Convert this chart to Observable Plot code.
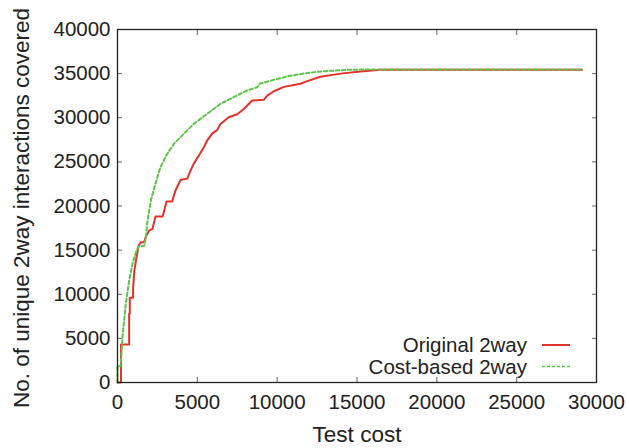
<!DOCTYPE html>
<html><head><meta charset="utf-8">
<script src="https://cdn.jsdelivr.net/npm/d3@7"></script>
<script src="https://cdn.jsdelivr.net/npm/@observablehq/plot@0.6"></script>
<style>body{margin:0;background:#fff} svg{display:block}</style>
</head><body><div id="chart"></div>
<script>
const seriesNames = ["Original 2way", "Cost-based 2way"];
const xLabel = "Test cost";
const yLabel = "No. of unique 2way interactions covered";
const xTicks = [0, 5000, 10000, 15000, 20000, 25000, 30000];
const yTicks = [0, 5000, 10000, 15000, 20000, 25000, 30000, 35000, 40000];

const originalCost =    [0, 220, 220, 730, 730, 770, 770, 980, 980, 1060, 1190, 1320, 1460, 1670, 1770, 1980, 2190, 2380, 2830, 3070, 3420, 3630, 3950, 4370, 4570, 4780, 5090, 5410, 5610, 5930, 6240, 6450, 6970, 7500, 7910, 8330, 8440, 9170, 9380, 9790, 10420, 11460, 11880, 12710, 13970, 15220, 16470, 17000, 29100];
const originalCovered = [0, 0, 4300, 4300, 7800, 7800, 9600, 9600, 10800, 12700, 14200, 15500, 15900, 15900, 16500, 17200, 17400, 18800, 18800, 20500, 20500, 21750, 22950, 23100, 24000, 24800, 25700, 26650, 27400, 28200, 28600, 29300, 30050, 30400, 31000, 31750, 31950, 32050, 32500, 33000, 33500, 33850, 34150, 34650, 35000, 35250, 35430, 35450, 35450];

const costBasedCost =    [0, 0, 200, 310, 520, 730, 940, 1150, 1320, 1680, 1780, 1880, 2100, 2420, 2690, 3110, 3530, 4150, 4780, 5620, 6450, 7280, 8120, 8750, 8900, 9790, 10840, 11880, 12920, 14380, 16040, 29100];
const costBasedCovered = [0, 1850, 1850, 5100, 8950, 11550, 13450, 14750, 15400, 15500, 16450, 18350, 20700, 22800, 24400, 25910, 27040, 28180, 29310, 30450, 31580, 32330, 33090, 33460, 33850, 34300, 34760, 35070, 35270, 35430, 35480, 35470];

const colors = ["#e2332a", "#5cc54a"];

const original = originalCost.map((c, i) => ({cost: c, covered: originalCovered[i]}));
const costBased = costBasedCost.map((c, i) => ({cost: c, covered: costBasedCovered[i]}));

const font = "'Liberation Sans', Arial, Helvetica, sans-serif";

const plot = Plot.plot({
  width: 626, height: 448,
  marginLeft: 117, marginRight: 30, marginTop: 29, marginBottom: 66,
  style: {fontFamily: font, fontSize: "20.5px", color: "#222", background: "#fff"},
  x: {domain: [0, 30000]},
  y: {domain: [0, 40000]},
  marks: [
    Plot.axisX(xTicks, {anchor: "bottom", tickSize: -5, tickPadding: 17, tickFormat: d => String(d), label: null, stroke: "#666"}),
    Plot.axisX(xTicks, {anchor: "top", tickSize: -5, tickFormat: () => "", label: null, stroke: "#666"}),
    Plot.axisY(yTicks, {anchor: "left", tickSize: -5, tickPadding: 12, tickFormat: d => String(d), label: null, stroke: "#666"}),
    Plot.axisY(yTicks, {anchor: "right", tickSize: -5, tickFormat: () => "", label: null, stroke: "#666"}),
    Plot.line(original, {x: "cost", y: "covered", stroke: colors[0], strokeWidth: 2}),
    Plot.line(costBased, {x: "cost", y: "covered", stroke: colors[1], strokeWidth: 2, strokeDasharray: "3.5,2.5"}),
    Plot.frame({stroke: "#222", strokeWidth: 1.3}),
    Plot.text([xLabel], {text: d => d, frameAnchor: "bottom", lineAnchor: "bottom", dy: 59, fontSize: 22.5, fill: "#222"}),
    Plot.text([yLabel], {text: d => d, frameAnchor: "left", textAnchor: "middle", lineAnchor: "bottom", rotate: -90, dx: -88.5, dy: 2, fontSize: 22.5, fill: "#222"})
  ]
});

// legend overlay (inside plot, bottom-right)
const svg = d3.select(plot);
const lg = svg.append("g").attr("font-family", font).attr("font-size", 20.5).attr("fill", "#222");
const legendRows = [
  {name: seriesNames[0], color: colors[0], dash: null, ty: 351.5, ly: 345},
  {name: seriesNames[1], color: colors[1], dash: "3,2", ty: 373.5, ly: 366.5}
];
legendRows.forEach(r => {
  lg.append("text").attr("x", 527).attr("y", r.ty).attr("text-anchor", "end").text(r.name);
  const l = lg.append("line").attr("x1", 542).attr("x2", 570).attr("y1", r.ly).attr("y2", r.ly)
    .attr("stroke", r.color).attr("stroke-width", r.dash ? 1.5 : 2);
  if (r.dash) l.attr("stroke-dasharray", r.dash);
});

document.getElementById("chart").appendChild(plot);
</script>
</body></html>
